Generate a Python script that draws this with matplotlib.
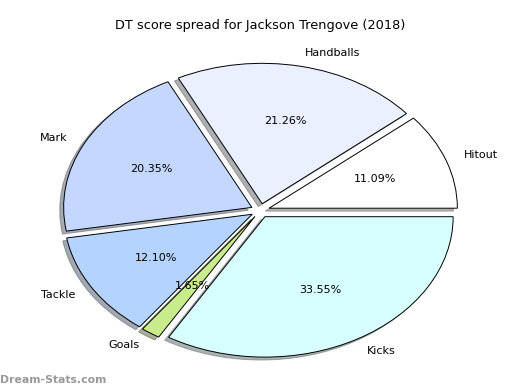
#!/usr/bin/env python3

import matplotlib
matplotlib.use("Agg")
import matplotlib.pyplot as plt

labels = ["Hitout", "Handballs", "Mark", "Tackle", "Goals", "Kicks"]
shares = [11.09, 21.26, 20.35, 12.10, 1.65, 33.55]
colors = ["#ffffff", "#eaf0ff", "#c4d8ff", "#b4d4ff", "#c8ec8c", "#d8ffff"]
title = "DT score spread for Jackson Trengove (2018)"


def main():
    fig = plt.figure(figsize=(5.2, 3.9), dpi=100)
    ax = fig.add_axes([0.048, 0.01, 0.905, 0.9])
    ax.pie(shares, labels=labels, colors=colors, explode=[0.05] * len(shares),
           autopct="%1.2f%%", startangle=0,
           shadow={"ox": -0.015, "oy": -0.015, "shade": 0.6},
           wedgeprops={"edgecolor": "black", "linewidth": 0.7},
           textprops={"fontsize": 8})
    ax.set_aspect("auto")
    fig.text(0.5, 0.918, title, ha="center", va="bottom", fontsize=9.3)
    fig.text(0.0, 0.012, "Dream-Stats.com", color="#999999", fontsize=7.8,
             fontweight="bold", ha="left", va="bottom")
    fig.savefig("out.png", dpi=100)


if __name__ == '__main__':
    main()
